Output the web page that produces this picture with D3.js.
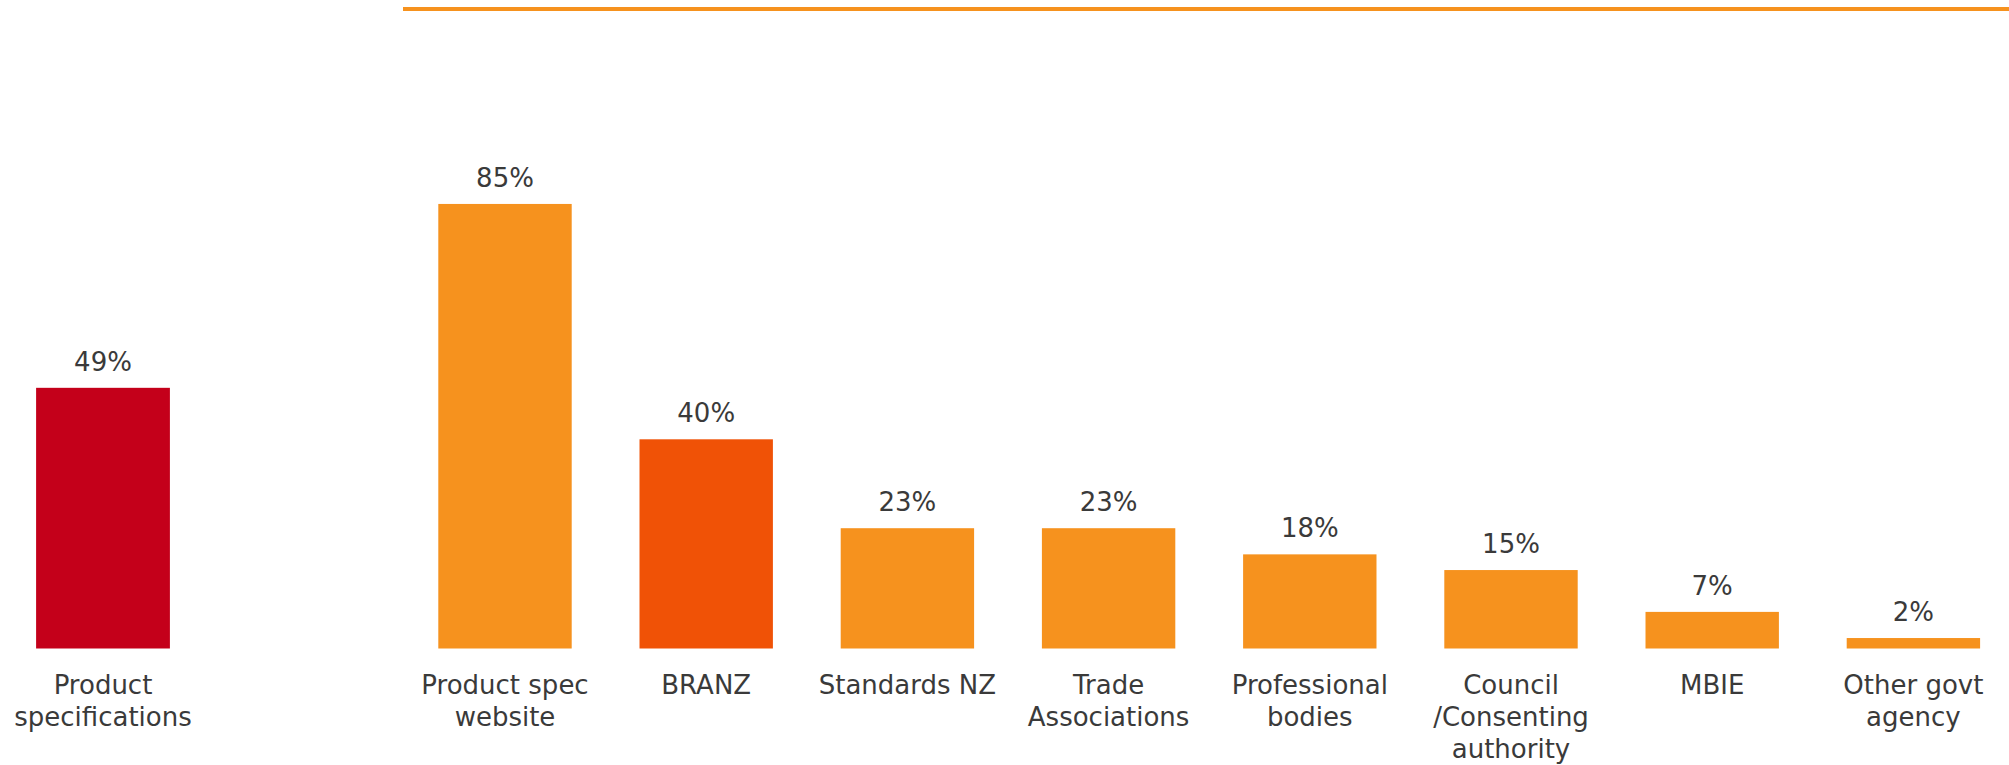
<!DOCTYPE html>
<html>
<head>
<meta charset="utf-8">
<script src="https://cdn.jsdelivr.net/npm/d3@7"></script>
<style>
  html, body { margin: 0; padding: 0; background: #ffffff; }
  svg { display: block; }
  text { font-family: "DejaVu Sans", Verdana, sans-serif; fill: #3a3a3a; }
</style>
</head>
<body>
<svg id="chart"></svg>
<script>
// ==============================
// DATA
// ==============================

const leftCategories = ["Product\nspecifications"];
const leftValues = [49];

const rightCategories = [
  "Product spec\nwebsite",
  "BRANZ",
  "Standards NZ",
  "Trade\nAssociations",
  "Professional\nbodies",
  "Council\n/Consenting\nauthority",
  "MBIE",
  "Other govt\nagency"
];
const rightValues = [85, 40, 23, 23, 18, 15, 7, 2];

// ==============================
// STYLE
// ==============================

const width = 2009;
const height = 765;
const baseline = 648.5;

const redColor = "#c4001a";
const orangeColor = "#f6921e";
const branzColor = "#f05206";
const highlighted = "BRANZ";

const fontSize = 26;
const lineHeight = 32;

const svg = d3.select("#chart")
  .attr("width", width)
  .attr("height", height);

// top rule over the right chart
svg.append("rect")
  .attr("x", 403)
  .attr("y", 7)
  .attr("width", width - 403)
  .attr("height", 4)
  .attr("fill", orangeColor);

// ==============================
// DRAW ONE PANEL
// ==============================

function drawPanel(categories, values, x0, x1, pxPerPercent, colorFor) {
  const x = d3.scaleBand()
    .domain(categories)
    .range([x0, x1])
    .paddingInner(0.337)
    .paddingOuter(0.1685);

  const y = d3.scaleLinear()
    .domain([0, 100])
    .range([baseline, baseline - pxPerPercent * 100]);

  const rows = categories.map((c, i) => ({ name: c, value: values[i] }));

  const g = svg.append("g");

  g.selectAll("rect.bar")
    .data(rows)
    .enter()
    .append("rect")
    .attr("class", "bar")
    .attr("x", d => x(d.name))
    .attr("y", d => y(d.value))
    .attr("width", x.bandwidth())
    .attr("height", d => y(0) - y(d.value))
    .attr("fill", colorFor);

  g.selectAll("text.value")
    .data(rows)
    .enter()
    .append("text")
    .attr("class", "value")
    .attr("x", d => x(d.name) + x.bandwidth() / 2)
    .attr("y", d => y(d.value) - 17)
    .attr("text-anchor", "middle")
    .attr("font-size", fontSize)
    .text(d => d.value + "%");

  // category labels via axis, split into lines
  const axis = g.append("g")
    .attr("transform", `translate(0,${baseline})`)
    .call(d3.axisBottom(x).tickSize(0));

  axis.select(".domain").remove();

  axis.selectAll(".tick text")
    .attr("font-size", fontSize)
    .attr("font-family", null)
    .attr("fill", null)
    .attr("y", 45.5)
    .attr("dy", 0)
    .each(function(d) {
      const t = d3.select(this);
      t.text(null);
      d.split("\n").forEach((line, i) => {
        t.append("tspan")
          .attr("x", 0)
          .attr("dy", i === 0 ? 0 : lineHeight)
          .text(line);
      });
    });
}

drawPanel(leftCategories, leftValues, 2.1, 203.9, 5.32, () => redColor);

drawPanel(rightCategories, rightValues, 404.4, 2014, 5.23,
  d => d.name === highlighted ? branzColor : orangeColor);
</script>
</body>
</html>
